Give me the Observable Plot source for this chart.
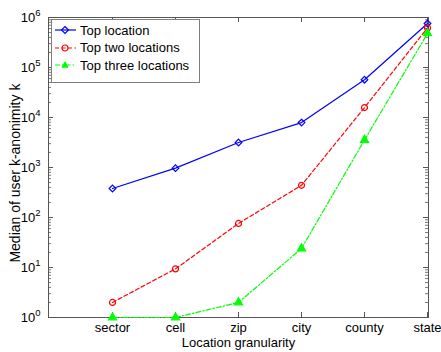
<!DOCTYPE html>
<html>
<head>
<meta charset="utf-8">
<script src="https://cdn.jsdelivr.net/npm/d3@7"></script>
<script src="https://cdn.jsdelivr.net/npm/@observablehq/plot@0.6"></script>
<style>
  body { margin: 0; background: #fff; font-family: "Liberation Sans", Arial, sans-serif; }
  #wrap { position: relative; width: 441px; height: 352px; }
  #legend { position: absolute; left: 51px; top: 19px; width: 149px; height: 64px;
    border: 1px solid #7f7f7f; background: #fff; box-sizing: border-box; font-size: 13px; color: #000; }
  .row { position: absolute; left: 2px; height: 16px; display: flex; align-items: center; }
  .row svg { margin-right: 3px; }
</style>
</head>
<body>
<div id="wrap"></div>
<script>
const categories = ["sector", "cell", "zip", "city", "county", "state"];
const topOne = [380, 970, 3160, 7900, 57000, 760000];
const topTwo = [2, 9.4, 76, 440, 15800, 620000];
const topThree = [1, 1, 2, 24, 3550, 480000];
const seriesNames = ["Top location", "Top two locations", "Top three locations"];
const yMajor = [1, 10, 100, 1000, 10000, 100000, 1000000];

const colors = ["#0000ff", "#ff0000", "#00ff00"];
const dashes = [null, "4,2.5", "5,2,1.5,2"];
const symbols = ["diamond2", "circle", "triangle"];

const rows = [];
[topOne, topTwo, topThree].forEach((vals, s) => {
  vals.forEach((v, i) => rows.push({series: seriesNames[s], cat: categories[i], value: v}));
});

const yMinor = [];
for (let e = 0; e < 6; e++) for (let m = 2; m <= 9; m++) yMinor.push(m * 10 ** e);

const W = 441, H = 352, mL = 48, mR = 13, mT = 17, mB = 35;
const pw = W - mL - mR, ph = H - mT - mB;
const axisColor = "#555";

const marks = [];
seriesNames.forEach((name, s) => {
  const data = rows.filter(d => d.series === name);
  marks.push(Plot.line(data, {x: "cat", y: "value", stroke: colors[s], strokeWidth: 1.2,
    strokeDasharray: dashes[s]}));
  marks.push(Plot.dot(data, {x: "cat", y: "value", symbol: () => symbols[s], r: 3,
    stroke: colors[s], strokeWidth: 1.2, fill: s === 2 ? colors[s] : "none"}));
});

const plot = Plot.plot({
  width: W, height: H,
  marginLeft: mL, marginRight: mR, marginTop: mT, marginBottom: mB,
  style: {fontFamily: "Liberation Sans, Arial, sans-serif", fontSize: "13px", color: "#000", background: "#fff"},
  x: {type: "point", domain: ["", ...categories], padding: 0},
  y: {type: "log", domain: [1, 1e6]},
  symbol: {type: "identity"},
  marks: [
    // inward tick marks
    Plot.ruleY(yMajor, {stroke: axisColor, insetRight: pw - 5}),
    Plot.ruleY(yMajor, {stroke: axisColor, insetLeft: pw - 5}),
    Plot.ruleY(yMinor, {stroke: axisColor, insetRight: pw - 3, strokeWidth: 0.8}),
    Plot.ruleY(yMinor, {stroke: axisColor, insetLeft: pw - 3, strokeWidth: 0.8}),
    Plot.ruleX(categories, {stroke: axisColor, insetTop: ph - 5}),
    Plot.ruleX(categories, {stroke: axisColor, insetBottom: ph - 5}),
    Plot.frame({stroke: axisColor}),
    Plot.axisY(yMajor, {tickSize: 0, tickPadding: 8, tickFormat: d => "10^" + Math.round(Math.log10(d)),
      label: "Median of user k-anonimity k", labelAnchor: "center", labelArrow: "none", labelOffset: 38,
      fontSize: 13}),
    Plot.axisX(categories, {tickSize: 0, tickPadding: 5, label: "Location granularity",
      labelAnchor: "center", labelArrow: "none", labelOffset: 29, fontSize: 13}),
    ...marks
  ]
});

// render superscripts in y tick labels
d3.select(plot).selectAll('g[aria-label="y-axis tick label"] text').each(function() {
  const t = this.textContent;
  if (t.includes("^")) {
    const [b, e] = t.split("^");
    this.textContent = "";
    d3.select(this).append("tspan").text(b);
    d3.select(this).append("tspan").attr("dy", "-0.6em").attr("font-size", "9.5px").text(e);
  }
});
d3.select(plot).selectAll('g[aria-label="y-axis label"] text').attr("font-size", "14px").attr("dx", "-0.4em");

const wrap = document.getElementById("wrap");
wrap.appendChild(plot);

// legend
const legend = document.createElement("div");
legend.id = "legend";
seriesNames.forEach((name, s) => {
  const row = document.createElement("div");
  row.className = "row";
  row.style.top = (2 + s * 17.5) + "px";
  const sym = s === 0
    ? `<path d="M11,-3.5 L14.5,0 L11,3.5 L7.5,0 Z" fill="none" stroke="${colors[s]}" stroke-width="1.2"/>`
    : s === 1
    ? `<circle cx="11" cy="0" r="3" fill="none" stroke="${colors[s]}" stroke-width="1.2"/>`
    : `<path d="M11,-3.2 L14,2.2 L8,2.2 Z" fill="${colors[s]}" stroke="${colors[s]}" stroke-width="1"/>`;
  row.innerHTML = `<svg width="23" height="16" viewBox="0 -8 23 16">
    <line x1="1" x2="22" y1="0" y2="0" stroke="${colors[s]}" stroke-width="1.2" ${dashes[s] ? `stroke-dasharray="${dashes[s]}"` : ""}/>
    ${sym}</svg><span>${name}</span>`;
  legend.appendChild(row);
});
wrap.appendChild(legend);
</script>
</body>
</html>
